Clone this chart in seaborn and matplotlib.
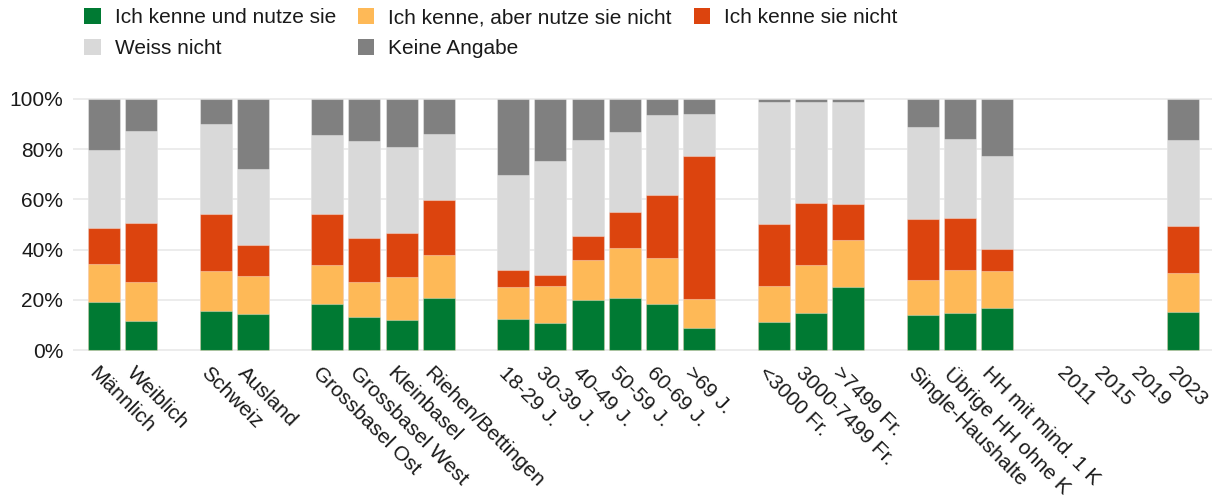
import numpy as np
import pandas as pd
import matplotlib
matplotlib.use("Agg")
import matplotlib.pyplot as plt
import matplotlib.transforms as mtransforms
from matplotlib.patches import Patch
import seaborn as sns

# Categories (groups separated by empty slots)
categories = ["Männlich", "Weiblich",
              "Schweiz", "Ausland",
              "Grossbasel Ost", "Grossbasel West", "Kleinbasel", "Riehen/Bettingen",
              "18-29 J.", "30-39 J.", "40-49 J.", "50-59 J.", "60-69 J.", ">69 J.",
              "<3000 Fr.", "3000-7499 Fr.", ">7499 Fr.",
              "Single-Haushalte", "Übrige HH ohne K", "HH mit mind. 1 K",
              "2023"]

# Axis order, including empty gap slots and survey years without data
slot_order = ["Männlich", "Weiblich", "_g1",
              "Schweiz", "Ausland", "_g2",
              "Grossbasel Ost", "Grossbasel West", "Kleinbasel", "Riehen/Bettingen", "_g3",
              "18-29 J.", "30-39 J.", "40-49 J.", "50-59 J.", "60-69 J.", ">69 J.", "_g4",
              "<3000 Fr.", "3000-7499 Fr.", ">7499 Fr.", "_g5",
              "Single-Haushalte", "Übrige HH ohne K", "HH mit mind. 1 K", "_g6",
              "2011", "2015", "2019", "2023"]

# Shares in percent
kenne_nutze = [19.1, 11.7, 15.6, 14.6, 18.3, 13.2, 12.0, 20.7,
               12.3, 10.7, 20.1, 20.7, 18.3, 8.7, 11.3, 14.8, 25.1,
               14.0, 15.0, 16.6, 15.2]
kenne_nicht_nutze = [15.3, 15.6, 15.8, 15.1, 15.7, 14.0, 17.2, 17.3,
                     12.9, 14.8, 15.9, 19.8, 18.5, 11.5, 14.4, 19.2, 18.6,
                     14.1, 17.1, 14.8, 15.7]
kenne_nicht = [14.1, 23.1, 22.6, 12.0, 20.1, 17.4, 17.4, 21.8,
               6.9, 4.6, 9.6, 14.6, 24.8, 57.0, 24.6, 24.6, 14.6,
               24.1, 20.5, 8.7, 18.6]
weiss_nicht = [31.1, 36.8, 36.1, 30.2, 31.4, 38.8, 34.3, 26.0,
               37.6, 45.0, 38.0, 31.8, 32.1, 16.7, 48.5, 40.2, 40.6,
               36.6, 31.3, 37.2, 34.1]
keine_angabe = [20.4, 12.8, 9.9, 28.1, 14.5, 16.6, 19.1, 14.2,
                30.3, 24.9, 16.4, 13.1, 6.3, 6.1, 1.2, 1.2, 1.1,
                11.2, 16.1, 22.7, 16.4]

series_names = ["Ich kenne und nutze sie", "Ich kenne, aber nutze sie nicht",
                "Ich kenne sie nicht", "Weiss nicht", "Keine Angabe"]
series_values = [kenne_nutze, kenne_nicht_nutze, kenne_nicht, weiss_nicht, keine_angabe]
colors = ["#007a33", "#feb957", "#dc440e", "#d9d9d9", "#808080"]

df = pd.DataFrame({"Kategorie": categories})
for name, vals in zip(series_names, series_values):
    df[name] = vals
cum = df[series_names].cumsum(axis=1)

sns.set_theme(style="white")
plt.rcParams["font.family"] = ["Liberation Sans", "DejaVu Sans"]
FS = 15

fig = plt.figure(figsize=(12.15, 5.0), dpi=100)
ax = fig.add_axes([73 / 1215, (500 - 351) / 500, (1212 - 73) / 1215, (351 - 98) / 500])

# Stacked bars: draw cumulative totals from the top layer down
for i in range(len(series_names) - 1, -1, -1):
    sns.barplot(x=df["Kategorie"], y=cum[series_names[i]], order=slot_order,
                color=colors[i], width=0.86, saturation=1,
                edgecolor=(1, 1, 1, 0.35), linewidth=0.8, ax=ax)

ax.set_xlim(-0.83, 29.78)
ax.set_ylim(-0.3, 100.3)
ax.set_yticks(np.arange(0, 101, 20))
ax.set_yticklabels([f"{v}%" for v in range(0, 101, 20)], fontsize=FS, color="#1a1a1a")
ax.yaxis.grid(True, color="#ebebeb", linewidth=1.3)
ax.set_axisbelow(True)
ax.tick_params(axis="both", length=0)
ax.tick_params(axis="y", pad=7)
ax.tick_params(axis="x", pad=9)

labels = ["" if s.startswith("_g") else s for s in slot_order]
ax.set_xticks(range(len(slot_order)))
ax.set_xticklabels(labels, rotation=-45, ha="left", rotation_mode="anchor",
                   fontsize=FS, color="#1a1a1a")
shift = mtransforms.ScaledTranslation(-5 / 100, 0, fig.dpi_scale_trans)
for lbl in ax.get_xticklabels():
    lbl.set_transform(lbl.get_transform() + shift)
ax.set_xlabel("")
ax.set_ylabel("")
for sp in ax.spines.values():
    sp.set_visible(False)

# Legend: three columns, filled column-wise
handles = [Patch(facecolor=colors[k], edgecolor="none", label=series_names[k])
           for k in [0, 3, 1, 4, 2]]
fig.legend(handles=handles, loc="upper left", bbox_to_anchor=(84 / 1215, 1 - 8 / 500),
           ncol=3, frameon=False, fontsize=FS, handlelength=0.8, handleheight=0.8,
           handletextpad=0.67, columnspacing=1.05, labelspacing=0.55,
           borderpad=0, borderaxespad=0, labelcolor="#1a1a1a")

fig.savefig("out.png", dpi=100)
